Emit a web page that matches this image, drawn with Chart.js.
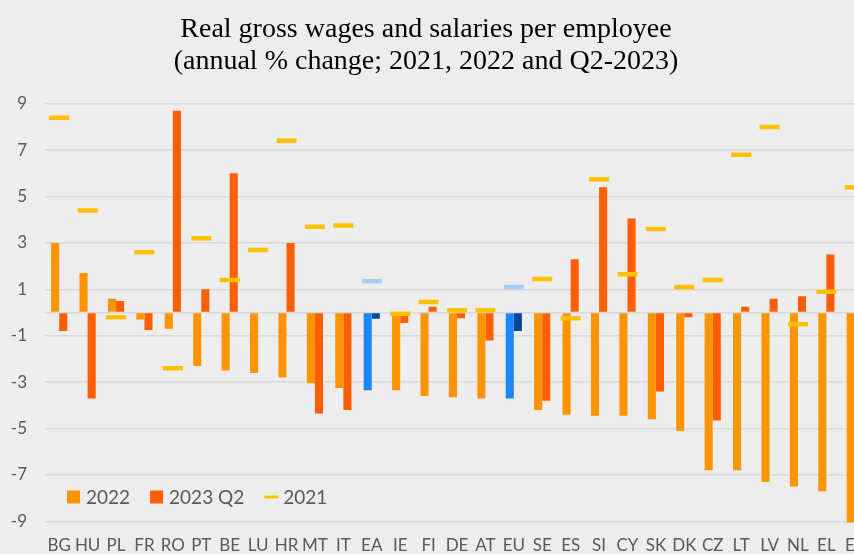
<!DOCTYPE html>
<html>
<head>
<meta charset="utf-8">
<script src="https://cdn.jsdelivr.net/npm/chart.js@4.4.1/dist/chart.umd.min.js"></script>
<style>
  html, body { margin: 0; padding: 0; width: 854px; height: 554px; overflow: hidden; background: #EDEDED; }
  #wrap { position: absolute; left: -17px; top: 0; width: 886px; height: 563px; }
</style>
</head>
<body>
<div id="wrap"><canvas id="grafico" width="886" height="563"></canvas></div>
<script>
// datos
const paises = ['BG', 'HU', 'PL', 'FR', 'RO', 'PT', 'BE', 'LU', 'HR', 'MT', 'IT', 'EA', 'IE', 'FI', 'DE',
  'AT', 'EU', 'SE', 'ES', 'SI', 'CY', 'SK', 'DK', 'CZ', 'LT', 'LV', 'NL', 'EL', 'EE']
const v2022 = [3.0, 1.7, 0.6, -0.3, -0.7, -2.3, -2.5, -2.6, -2.8, -3.05, -3.25, -3.35, -3.35, -3.6, -3.65,
  -3.7, -3.7, -4.2, -4.4, -4.45, -4.45, -4.6, -5.1, -6.8, -6.8, -7.3, -7.5, -7.7, -9.05]
const v2023q2 = [-0.8, -3.7, 0.5, -0.75, 8.7, 1.0, 6.0, null, 3.0, -4.35, -4.2, -0.27, -0.45, 0.25, -0.25,
  -1.2, -0.8, -3.8, 2.3, 5.4, 4.05, -3.4, -0.2, -4.65, 0.25, 0.6, 0.7, 2.5, -3.3]
const v2021 = [8.4, 4.4, -0.2, 2.6, -2.4, 3.2, 1.4, 2.7, 7.4, 3.7, 3.75, 1.35, -0.05, 0.45, 0.1,
  0.1, 1.1, 1.45, -0.25, 5.75, 1.65, 3.6, 1.1, 1.4, 6.8, 8.0, -0.5, 0.9, 5.4]
const ticksY = [-9, -7, -5, -3, -1, 1, 3, 5, 7, 9]
const agregados = ['EA', 'EU']

const titulo = ['Real gross wages and salaries per employee', '(annual % change; 2021, 2022 and Q2-2023)']

// colores: paises en naranja, agregados en azul
const color = (normal, azul) => paises.map((p) => agregados.includes(p) ? azul : normal)
const col2022 = color('#FF9400', '#1C86FF')
const col2023 = color('#FF5F00', '#00489C')
const col2021 = color('#FFC000', '#A8CCF8')

Chart.defaults.font.family = 'Lato'
Chart.defaults.color = '#595959'

const leyenda = {
  id: 'leyendaInterna',
  afterDraw(chart) {
    const ctx = chart.ctx
    const area = chart.chartArea
    let x = area.left + 22
    const y = area.bottom - 36
    ctx.save()
    ctx.font = '19px Lato'
    ctx.textBaseline = 'middle'
    chart.data.datasets.forEach((ds) => {
      if (ds.type === 'line') {
        ctx.fillStyle = '#FFC000'
        ctx.fillRect(x, y - 1.5, 14, 3)
      } else {
        ctx.fillStyle = ds.backgroundColor[0]
        ctx.fillRect(x, y - 6.5, 13, 13)
      }
      x += 19
      ctx.fillStyle = '#595959'
      ctx.fillText(ds.label, x, y + 1)
      x += ctx.measureText(ds.label).width + 20
    })
    ctx.restore()
  }
}

const grafico = document.getElementById('grafico')

new Chart(grafico, {
  type: 'bar',
  data: {
    labels: paises,
    datasets: [
      {
        label: '2022',
        data: v2022,
        backgroundColor: col2022,
        borderWidth: 0,
      },
      {
        label: '2023 Q2',
        data: v2023q2,
        backgroundColor: col2023,
        borderWidth: 0,
      },
      {
        type: 'line',
        label: '2021',
        data: v2021,
        showLine: false,
        order: -1,
        pointStyle: 'line',
        pointRadius: 10,
        pointHoverRadius: 10,
        pointBorderWidth: 4.5,
        pointHoverBorderWidth: 4.5,
        pointBorderColor: col2021,
        pointBackgroundColor: col2021,
      },
    ],
  },
  options: {
    responsive: false,
    animation: false,
    devicePixelRatio: 1,
    layout: { padding: 0, autoPadding: false },
    datasets: {
      bar: { categoryPercentage: 0.57, barPercentage: 1.0 },
    },
    plugins: {
      legend: { display: false },
      tooltip: { enabled: false },
      title: {
        display: true,
        text: titulo,
        color: '#000000',
        font: { family: 'Liberation Serif', size: 28, weight: 'normal', lineHeight: 1.165 },
        padding: { top: 13, bottom: 16.2 },
      },
    },
    scales: {
      x: {
        grid: { display: false, drawTicks: false },
        border: { display: false },
        ticks: { font: { size: 17 }, padding: 2, maxRotation: 0, autoSkip: false },
        afterFit: (scale) => { scale.height = 30 },
      },
      y: {
        min: -9.5,
        max: 9.4,
        border: { display: false },
        grid: { color: '#D9D9D9', lineWidth: 1.5, drawTicks: false },
        ticks: {
          font: { size: 17 },
          padding: 18,
          callback: (valor) => valor === 0 ? '' : valor,
        },
        afterBuildTicks: (scale) => {
          scale.ticks = ticksY.concat([0]).map((v) => ({ value: v }))
        },
        afterFit: (scale) => { scale.width = 62 },
      },
    },
  },
  plugins: [leyenda],
})
</script>
</body>
</html>
